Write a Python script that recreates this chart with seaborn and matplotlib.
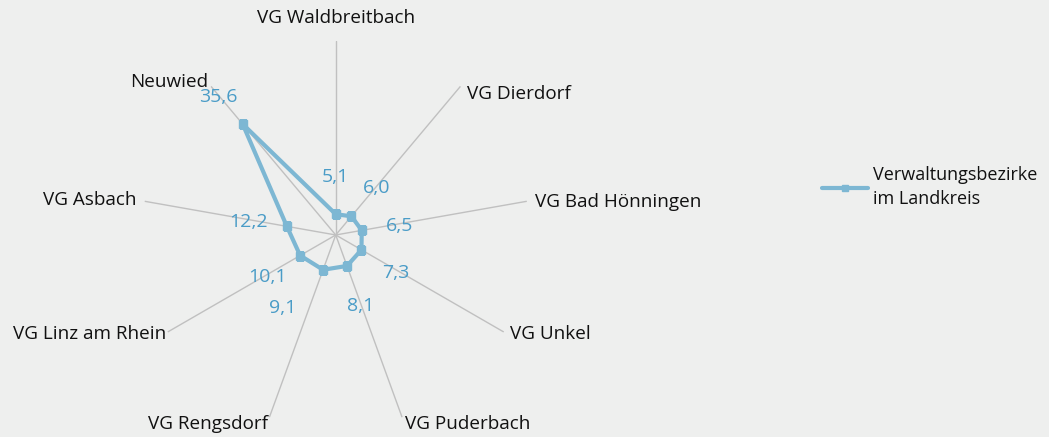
import numpy as np
import matplotlib
matplotlib.use("Agg")
import matplotlib.pyplot as plt
import seaborn as sns

# Daten (Anteil in %)
bezirke = ["VG Waldbreitbach", "VG Dierdorf", "VG Bad Hönningen", "VG Unkel",
           "VG Puderbach", "VG Rengsdorf", "VG Linz am Rhein", "VG Asbach", "Neuwied"]
werte = [5.1, 6.0, 6.5, 7.3, 8.1, 9.1, 10.1, 12.2, 35.6]
werte_txt = ["5,1", "6,0", "6,5", "7,3", "8,1", "9,1", "10,1", "12,2", "35,6"]
serie = "Verwaltungsbezirke\nim Landkreis"

sns.set_theme(style="white")
plt.rcParams["font.family"] = ["Open Sans", "DejaVu Sans"]

bg = "#eeefee"
linie = "#7db7d3"
blau = "#4a9cc7"

fig = plt.figure(figsize=(10.49, 4.37), dpi=100, facecolor=bg)
ax = fig.add_axes([0.1351, 0.0183, 0.3699, 0.888], projection="polar")
ax.set_facecolor(bg)
ax.set_theta_zero_location("N")
ax.set_theta_direction(-1)

n = len(bezirke)
winkel = np.arange(n) * 2 * np.pi / n
rmax = 47.7
ax.set_ylim(0, rmax)

# Speichen
for w in winkel:
    ax.plot([w, w], [0, rmax], color="#c0c0c0", lw=1, zorder=1)

ax.grid(False)
ax.set_xticks([])
ax.set_yticks([])
ax.spines["polar"].set_visible(False)

w_closed = np.append(winkel, winkel[0])
v_closed = werte + [werte[0]]
ax.plot(w_closed, v_closed, color=linie, lw=3, zorder=3)
ax.plot(winkel, werte, ls="none", marker="s", ms=6, color=linie, zorder=4,
        label=serie)

# Datenbeschriftungen (Versatz in Pixel)
versatz = [(0, 37), (25, 28), (38, 4), (34, -23), (14, -40),
           (-40, -38), (-33, -21), (-38, 4), (-24, 27)]
for w, v, t, (dx, dy) in zip(winkel, werte, werte_txt, versatz):
    ax.annotate(t, xy=(w, v), xytext=(dx, dy), textcoords="offset pixels",
                ha="center", va="center", color=blau, fontsize=14)

# Kategoriebeschriftungen
lab_pos = [(0, 23, "center"), (7, -8, "left"), (8, -1, "left"), (6, -2, "left"),
           (3, -7, "left"), (-1, -7, "right"), (-1, -2, "right"),
           (-8, 1, "right"), (-3, 4, "right")]
for w, b, (dx, dy, ha) in zip(winkel, bezirke, lab_pos):
    ax.annotate(b, xy=(w, rmax), xytext=(dx, dy), textcoords="offset pixels",
                ha=ha, va="center", color="#111111", fontsize=13.6,
                annotation_clip=False)

leg = fig.legend(loc="center left", bbox_to_anchor=(0.7836, 0.572), frameon=False,
                 fontsize=13, handlelength=2.55, handletextpad=0.28,
                 borderaxespad=0, borderpad=0)
for t in leg.get_texts():
    t.set_linespacing(1.45)
    t.set_color("#111111")
for h in leg.legend_handles:
    h.set_linestyle("-")
    h.set_linewidth(3)
    h.set_markersize(5)

fig.savefig("out.png", dpi=100, facecolor=bg)
